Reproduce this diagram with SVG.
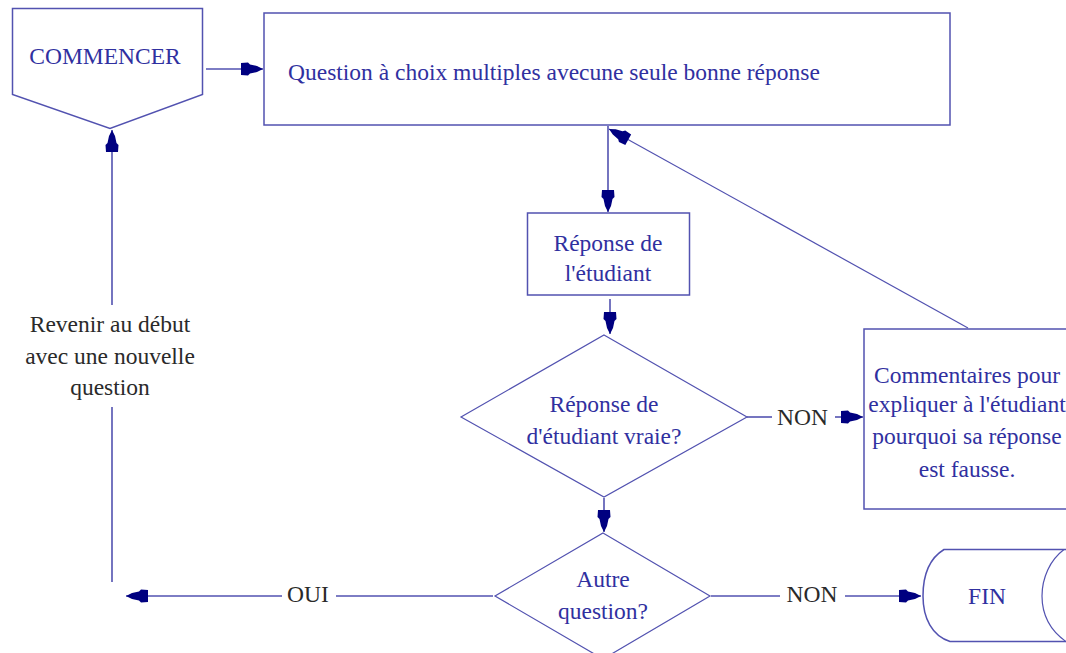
<svg xmlns="http://www.w3.org/2000/svg" width="1066" height="653" viewBox="0 0 1066 653">
<style>
.shape{fill:#fff;stroke:#5252b0;stroke-width:1.5}
.thin{fill:none;stroke:#5252b0;stroke-width:1.2}
.line{fill:none;stroke:#5252b0;stroke-width:1.6}
.nt{font-family:'Liberation Serif','DejaVu Serif',serif;font-size:23.5px;fill:#3030a0;text-anchor:middle}
.el{font-family:'Liberation Serif','DejaVu Serif',serif;font-size:23.5px;fill:#2a2a2a;text-anchor:middle}
</style>
<defs>
<marker id="ah" markerUnits="userSpaceOnUse" orient="auto" viewBox="-23 -7 24 14" refX="0" refY="0" markerWidth="24" markerHeight="14">
<path d="M0,0 L-6,-3 L-13,-4.5 L-15,-6.5 L-22,-6 L-22,6 L-15,6.5 L-13,4.5 L-6,3 Z" fill="#000080"/>
</marker>
</defs>
<rect width="1066" height="653" fill="#fff"/>
<g id="connectors">
<line class="line" x1="206" y1="69" x2="263" y2="69" marker-end="url(#ah)"/>
<line class="line" x1="608" y1="126" x2="608" y2="212" marker-end="url(#ah)"/>
<line class="line" x1="610" y1="299" x2="610" y2="334" marker-end="url(#ah)"/>
<line class="line" x1="604" y1="498" x2="604" y2="532" marker-end="url(#ah)"/>
<line class="line" x1="747" y1="417" x2="772" y2="417"/>
<text class="el" x="802.5" y="425" font-family="Liberation Serif, DejaVu Serif, serif">NON</text>
<line class="line" x1="835" y1="417" x2="863" y2="417" marker-end="url(#ah)"/>
<line class="thin" x1="968" y1="328" x2="609" y2="129" marker-end="url(#ah)"/>
<line class="line" x1="493" y1="596" x2="336" y2="596"/>
<text class="el" x="308" y="602" font-family="Liberation Serif, DejaVu Serif, serif">OUI</text>
<line class="line" x1="282" y1="596" x2="126" y2="596" marker-end="url(#ah)"/>
<line class="line" x1="112" y1="582" x2="112" y2="407"/>
<text class="el" x="110" y="332" font-family="Liberation Serif, DejaVu Serif, serif">Revenir au début</text>
<text class="el" x="110" y="364" font-family="Liberation Serif, DejaVu Serif, serif">avec une nouvelle</text>
<text class="el" x="110" y="395" font-family="Liberation Serif, DejaVu Serif, serif">question</text>
<line class="line" x1="112" y1="305" x2="112" y2="130" marker-end="url(#ah)"/>
<line class="line" x1="711" y1="596" x2="780" y2="596"/>
<text class="el" x="812" y="602" font-family="Liberation Serif, DejaVu Serif, serif">NON</text>
<line class="line" x1="845" y1="596" x2="921" y2="596" marker-end="url(#ah)"/>
</g>
<g id="commencer">
<path class="shape" d="M12.5,8.5 L202.5,8.5 L202.5,94.5 L110,128.5 L12.5,94.5 Z"/>
<text class="nt" x="105" y="64" font-size="25" font-family="Liberation Serif, DejaVu Serif, serif">COMMENCER</text>
</g>
<g id="question">
<rect class="shape" x="264" y="13" width="686" height="112"/>
<text class="nt" x="288" y="80" style="text-anchor:start" font-family="Liberation Serif, DejaVu Serif, serif">Question à choix multiples avecune seule bonne réponse</text>
</g>
<g id="reponse">
<rect class="shape" x="527.5" y="213" width="162" height="82"/>
<text class="nt" x="608" y="251" font-family="Liberation Serif, DejaVu Serif, serif">Réponse de</text>
<text class="nt" x="608" y="281" font-family="Liberation Serif, DejaVu Serif, serif">l'étudiant</text>
</g>
<g id="decision1">
<path class="thin" style="fill:#fff" d="M604,335 L747,417 L604,497 L461,417 Z"/>
<text class="nt" x="604" y="412" font-family="Liberation Serif, DejaVu Serif, serif">Réponse de</text>
<text class="nt" x="604" y="444" font-family="Liberation Serif, DejaVu Serif, serif">d'étudiant vraie?</text>
</g>
<g id="commentaires">
<rect class="shape" x="864" y="329" width="220" height="180"/>
<text class="nt" x="967" y="383" font-family="Liberation Serif, DejaVu Serif, serif">Commentaires pour</text>
<text class="nt" x="967" y="412" font-family="Liberation Serif, DejaVu Serif, serif">expliquer à l'étudiant</text>
<text class="nt" x="967" y="444" font-family="Liberation Serif, DejaVu Serif, serif">pourquoi sa réponse</text>
<text class="nt" x="967" y="477" font-family="Liberation Serif, DejaVu Serif, serif">est fausse.</text>
</g>
<g id="decision2">
<path class="thin" style="fill:#fff" d="M603,533 L710,596 L603,659 L495,596 Z"/>
<text class="nt" x="603" y="587" font-family="Liberation Serif, DejaVu Serif, serif">Autre</text>
<text class="nt" x="603" y="619" font-family="Liberation Serif, DejaVu Serif, serif">question?</text>
</g>
<g id="fin">
<path class="shape" d="M1070,549.5 L944,549.5 C930,558 923,575 923,596 C923,618 932,636 950,641.5 L1070,641.5"/>
<path class="thin" d="M1064,549.5 C1050,560 1042,578 1042,596 C1042,614 1050,631 1068,643"/>
<text class="nt" x="987" y="604" font-family="Liberation Serif, DejaVu Serif, serif">FIN</text>
</g>
</svg>
